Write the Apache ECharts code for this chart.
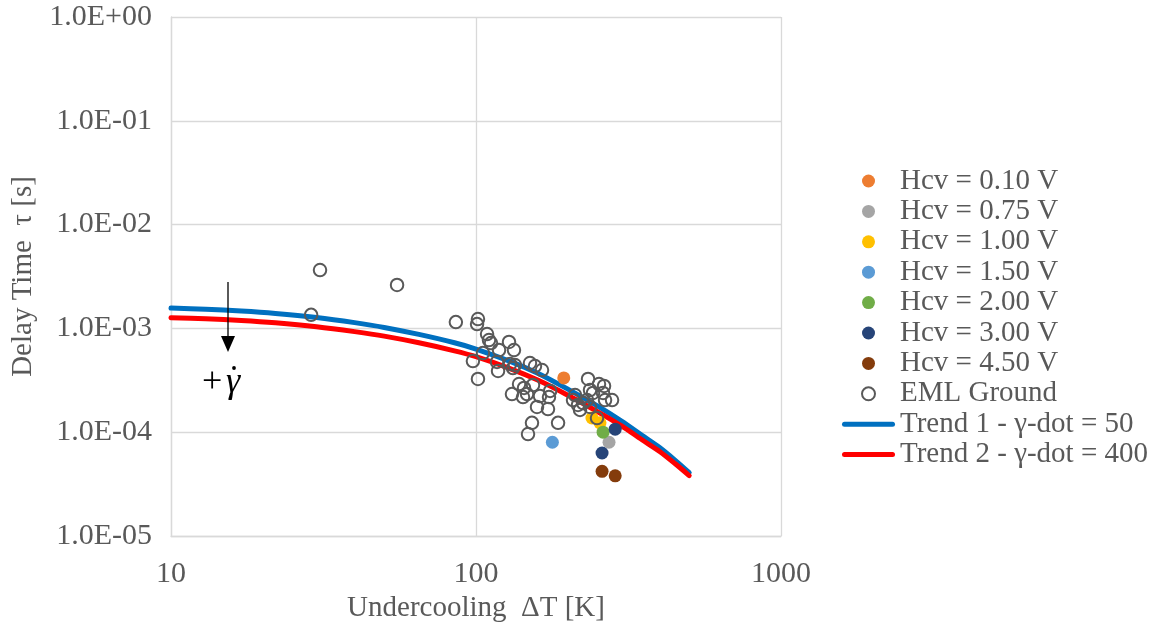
<!DOCTYPE html>
<html><head><meta charset="utf-8">
<script src="https://cdn.jsdelivr.net/npm/echarts@6/dist/echarts.min.js"></script>
<style>html,body{margin:0;padding:0;background:#fff}#c{width:1159px;height:632px}</style>
</head><body><div id="c"></div>
<script>
// ---- data ----
const xTicks = [10, 100, 1000];
const yTicks = [1e-5, 1e-4, 1e-3, 1e-2, 1e-1, 1];

const hcv010 = [[194, 3.33e-4]];
const hcv075 = [[273, 8.0e-5]];
const hcv100 = [[240, 1.37e-4], [255, 1.23e-4]];
const hcv150 = [[178, 8.0e-5]];
const hcv200 = [[261, 1.0e-4]];
const hcv300 = [[286, 1.07e-4], [259, 6.3e-5]];
const hcv450 = [[259, 4.2e-5], [286, 3.8e-5]];

const emlGround = [
  [28.8, 1.35e-3], [30.8, 3.65e-3], [55.1, 2.62e-3], [85.9, 1.15e-3],
  [101.5, 1.23e-3], [100.8, 1.10e-3], [108.7, 8.83e-4], [110.3, 7.73e-4],
  [112.0, 7.23e-4], [128.3, 7.40e-4], [133.2, 6.19e-4], [119.0, 6.19e-4],
  [105.4, 5.79e-4], [97.7, 4.85e-4], [117.2, 4.75e-4], [129.3, 4.54e-4],
  [134.2, 4.44e-4], [132.2, 4.15e-4], [150.3, 4.64e-4], [156.1, 4.34e-4],
  [164.6, 3.97e-4], [101.5, 3.26e-4], [118.1, 3.89e-4], [138.4, 2.91e-4],
  [143.7, 2.67e-4], [147.0, 2.33e-4], [142.6, 2.18e-4], [131.2, 2.33e-4],
  [153.8, 2.85e-4], [162.1, 2.23e-4], [173.5, 2.18e-4], [158.5, 1.75e-4],
  [172.2, 1.67e-4], [152.6, 1.23e-4], [185.8, 1.23e-4], [148.1, 9.6e-5],
  [233.0, 3.26e-4], [253.1, 2.91e-4], [236.5, 2.55e-4], [241.9, 2.39e-4],
  [260.9, 2.39e-4], [264.9, 2.04e-4], [279.3, 2.04e-4], [208.0, 2.04e-4],
  [216.0, 1.83e-4], [224.4, 1.91e-4], [231.2, 2.04e-4], [219.3, 1.64e-4],
  [236.5, 1.75e-4], [249.3, 1.37e-4], [262.9, 2.79e-4], [211.2, 2.28e-4],
  [175.0, 2.5e-4]
];

const trendX  = [10, 13, 17, 22, 30, 40, 50, 65, 85, 100, 130, 160, 200, 250, 300, 350, 400, 450, 500];
const trend1Y = [1.572e-3, 1.531e-3, 1.471e-3, 1.394e-3, 1.274e-3, 1.137e-3, 1.022e-3, 8.75e-4, 7.27e-4, 6.33e-4,
                 4.79e-4, 3.68e-4, 2.60e-4, 1.79e-4, 1.28e-4, 9.34e-5, 7.12e-5, 5.36e-5, 4.08e-5];
const trend2Y = [1.268e-3, 1.238e-3, 1.192e-3, 1.132e-3, 1.038e-3, 9.31e-4, 8.43e-4, 7.27e-4, 6.08e-4, 5.34e-4,
                 4.08e-4, 3.16e-4, 2.27e-4, 1.58e-4, 1.15e-4, 8.45e-5, 6.52e-5, 4.96e-5, 3.82e-5];

const seriesNames = ['Hcv = 0.10 V','Hcv = 0.75 V','Hcv = 1.00 V','Hcv = 1.50 V','Hcv = 2.00 V','Hcv = 3.00 V','Hcv = 4.50 V','EML Ground','Trend 1 - \u03b3-dot = 50','Trend 2 - \u03b3-dot = 400'];

// ---- chart ----
const FONT = '"Liberation Serif", "Times New Roman", serif';
const TXT = '#595959';
const GRID = '#d9d9d9';
const zip = (xs, ys) => xs.map((x, i) => [x, ys[i]]);
function fmtY(v) {
  const e = Math.round(Math.log10(v));
  return '1.0E' + (e < 0 ? '-' : '+') + String(Math.abs(e)).padStart(2, '0');
}
const dot = (name, data, color) => ({
  name, type: 'scatter', data, symbol: 'circle', symbolSize: 13, z: 3,
  itemStyle: { color, opacity: 1 }
});
const LINE_ICON = 'path://M2.5,0 L50.5,0 A2.5,2.5 0 0 1 50.5,5 L2.5,5 A2.5,2.5 0 0 1 2.5,0 Z';
const legendData = seriesNames.map((n, i) => i >= 8 ? { name: n, icon: LINE_ICON } : { name: n, icon: 'circle' });

const chart = echarts.init(document.getElementById('c'), null, { renderer: 'canvas' });
chart.setOption({
  animation: false,
  backgroundColor: '#fff',
  textStyle: { fontFamily: FONT },
  grid: { left: 171, right: 378, top: 17, bottom: 96 },
  xAxis: {
    type: 'log', logBase: 10, min: xTicks[0], max: xTicks[xTicks.length - 1],
    name: 'Undercooling  \u0394T [K]', nameLocation: 'middle', nameGap: 56,
    nameTextStyle: { fontFamily: FONT, fontSize: 29, color: TXT },
    axisLine: { show: true, lineStyle: { color: GRID, width: 1.3 } },
    axisTick: { show: false },
    axisLabel: { fontFamily: FONT, fontSize: 30, color: TXT, margin: 23, formatter: v => String(Math.round(v)) },
    splitLine: { show: true, lineStyle: { color: GRID, width: 1.3 } }
  },
  yAxis: {
    type: 'log', logBase: 10, min: yTicks[0], max: yTicks[yTicks.length - 1],
    name: 'Delay Time  \u03c4 [s]', nameLocation: 'middle', nameGap: 130, nameRotate: 90,
    nameTextStyle: { fontFamily: FONT, fontSize: 29, color: TXT },
    axisLine: { show: true, lineStyle: { color: GRID, width: 1.3 } },
    axisTick: { show: false },
    axisLabel: { fontFamily: FONT, fontSize: 30, color: TXT, margin: 19, formatter: fmtY },
    splitLine: { show: true, lineStyle: { color: GRID, width: 1.3 } }
  },
  legend: {
    orient: 'vertical', left: 842, top: 166, padding: 0,
    itemWidth: 53, itemHeight: 13, itemGap: 0.4,
    data: legendData,
    textStyle: { fontFamily: FONT, fontSize: 29, color: TXT, lineHeight: 30 }
  },
  series: [
    { name: seriesNames[8], type: 'line', data: zip(trendX, trend1Y), smooth: 0.3, showSymbol: false, symbol: 'none', z: 2,
      lineStyle: { color: '#0070c0', width: 5, cap: 'round' }, itemStyle: { color: '#0070c0' } },
    { name: seriesNames[9], type: 'line', data: zip(trendX, trend2Y), smooth: 0.3, showSymbol: false, symbol: 'none', z: 2,
      lineStyle: { color: '#ff0000', width: 5, cap: 'round' }, itemStyle: { color: '#ff0000' } },
    dot(seriesNames[0], hcv010, '#ed7d31'),
    dot(seriesNames[1], hcv075, '#a5a5a5'),
    dot(seriesNames[2], hcv100, '#ffc000'),
    dot(seriesNames[3], hcv150, '#5b9bd5'),
    dot(seriesNames[4], hcv200, '#70ad47'),
    dot(seriesNames[5], hcv300, '#264478'),
    dot(seriesNames[6], hcv450, '#843c0c'),
    { name: seriesNames[7], type: 'scatter', data: emlGround, symbol: 'circle', symbolSize: 12.5, z: 4,
      itemStyle: { color: 'rgba(255,255,255,0)', borderColor: '#595959', borderWidth: 2, opacity: 1 } }
  ],
  graphic: [
    { type: 'line', shape: { x1: 228, y1: 282, x2: 228, y2: 338 }, style: { stroke: '#000', lineWidth: 1.3 }, z: 10 },
    { type: 'polygon', shape: { points: [[221, 336], [235, 336], [228, 352]] }, style: { fill: '#000' }, z: 10 },
    { type: 'text', left: 202, top: 365, z: 10,
      style: { text: '+', font: '36px ' + FONT, fill: '#000' } },
    { type: 'text', left: 226, top: 365, z: 10,
      style: { text: '\u03b3', font: 'italic 36px ' + FONT, fill: '#000' } },
    { type: 'circle', shape: { cx: 234, cy: 368, r: 1.9 }, style: { fill: '#000' }, z: 10 }
  ]
});
</script></body></html>
